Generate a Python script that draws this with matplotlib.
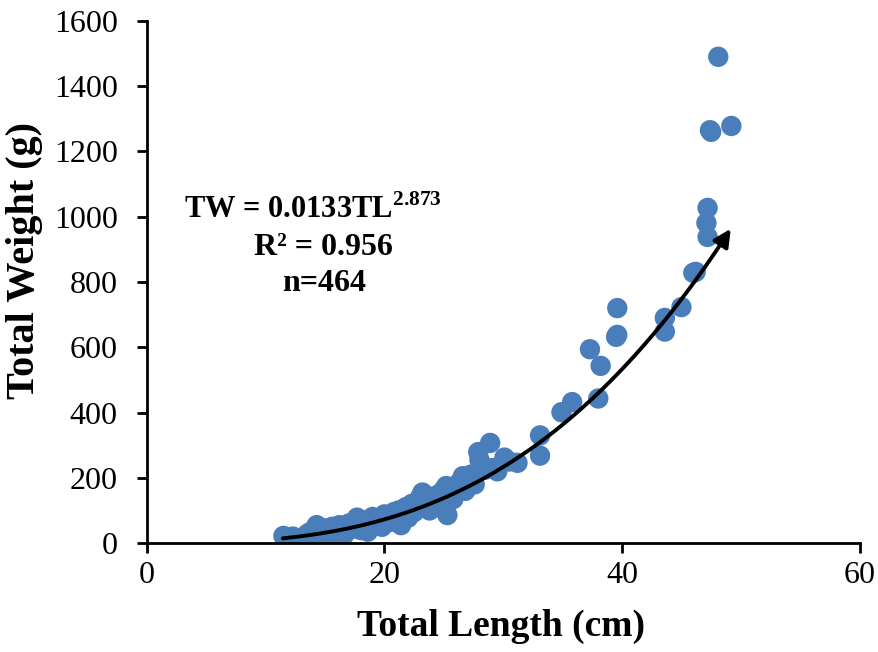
import matplotlib.pyplot as plt
import numpy as np

plt.rcParams["font.family"] = ["Liberation Serif", "DejaVu Serif"]
plt.rcParams["mathtext.fontset"] = "custom"
plt.rcParams["mathtext.rm"] = "Liberation Serif:bold"
plt.rcParams["mathtext.bf"] = "Liberation Serif:bold"

# total length (cm) and total weight (g)
length_cm = [
    11.5, 12.0, 12.3, 13.0, 13.5, 13.8, 14.0, 14.3, 14.5, 14.8,
    15.0, 15.3, 15.6, 15.8, 16.0, 16.2, 16.5, 16.8, 17.0, 17.2,
    17.5, 17.7, 17.9, 18.0, 18.3, 18.5, 18.8, 19.0, 19.2, 19.5,
    19.8, 20.0, 20.2, 20.5, 20.8, 21.0, 21.2, 21.4, 21.6, 21.8,
    22.0, 22.3, 22.5, 22.8, 23.0, 23.2, 23.4, 23.6, 23.8, 24.0,
    24.3, 24.6, 24.9, 25.2, 25.3, 25.5, 25.8, 26.0, 26.3, 26.6,
    26.8, 27.0, 27.3, 27.6, 27.9, 28.0, 28.2, 28.5, 28.9, 29.1,
    29.5, 30.1, 30.5, 31.2, 33.1, 33.1, 34.9, 35.8, 37.3, 38.0,
    38.2, 39.6, 39.6, 39.5, 43.6, 43.6, 45.0, 46.2, 46.0, 47.2,
    47.1, 47.2, 47.5, 47.4, 48.1, 49.2, 13.3, 15.5, 16.6, 18.6,
]
weight_g = [
    22, 18, 20, 15, 28, 35, 30, 55, 40, 25,
    45, 38, 50, 30, 42, 55, 48, 35, 60, 52,
    45, 78, 65, 40, 58, 70, 55, 80, 62, 72,
    50, 88, 75, 65, 95, 82, 100, 55, 90, 110,
    78, 120, 95, 105, 140, 155, 115, 130, 100, 125,
    145, 110, 160, 175, 86, 150, 135, 170, 185, 205,
    160, 195, 210, 180, 279, 255, 240, 225, 307, 230,
    220, 262, 250, 246, 330, 268, 401, 432, 594, 443,
    543, 720, 638, 632, 690, 648, 723, 831, 828, 938,
    981, 1027, 1260, 1265, 1490, 1278, 12, 20, 25, 35,
]

# power trendline shown on the chart: TW = a * TL^b
fit_a = 0.0133
fit_b = 2.873
fit_range = (11.45, 49.15)

fig = plt.figure(figsize=(8.79, 6.52), dpi=100)
ax = fig.add_axes([0.167, 0.167, 0.811, 0.801])

ax.scatter(length_cm, weight_g, s=215, color="#4a7ebb", edgecolors="none", zorder=2)

xs = np.linspace(fit_range[0], fit_range[1] - 0.5, 200)
ax.plot(xs, fit_a * xs ** fit_b, color="black", lw=2.8, zorder=3,
        solid_capstyle="round")
x_end = fit_range[1]
x_pre = x_end - 0.6
ax.annotate(
    "",
    xy=(x_end, fit_a * x_end ** fit_b),
    xytext=(x_pre, fit_a * x_pre ** fit_b),
    arrowprops=dict(arrowstyle="-|>", color="black", lw=2.8, mutation_scale=26,
                    shrinkA=0, shrinkB=0),
    zorder=4,
)

ax.text(14.0, 1020, r"TW = 0.0133TL$^{2.873}$", ha="center", va="center",
        fontsize=22, fontweight="bold")
ax.text(14.9, 907, "R² = 0.956", ha="center", va="center",
        fontsize=23, fontweight="bold")
ax.text(14.9, 794, "n=464", ha="center", va="center",
        fontsize=23, fontweight="bold")

ax.set_xlim(0, 60)
ax.set_ylim(0, 1600)
ax.set_xticks([0, 20, 40, 60])
ax.set_yticks(range(0, 1601, 200))
ax.spines[["top", "right"]].set_visible(False)
for side in ["left", "bottom"]:
    ax.spines[side].set_linewidth(2)
ax.tick_params(direction="out", length=7, width=2, labelsize=23)
ax.tick_params(axis="y", pad=14)
ax.tick_params(axis="x", pad=6)
ax.set_xlabel("Total Length (cm)", fontsize=27, fontweight="bold", va="top")
ax.set_ylabel("Total Weight (g)", fontsize=29, fontweight="bold")
ax.xaxis.set_label_coords(0.497, -0.125)
ax.yaxis.set_label_coords(-0.146, 0.542)

fig.savefig("out.png", dpi=100)
